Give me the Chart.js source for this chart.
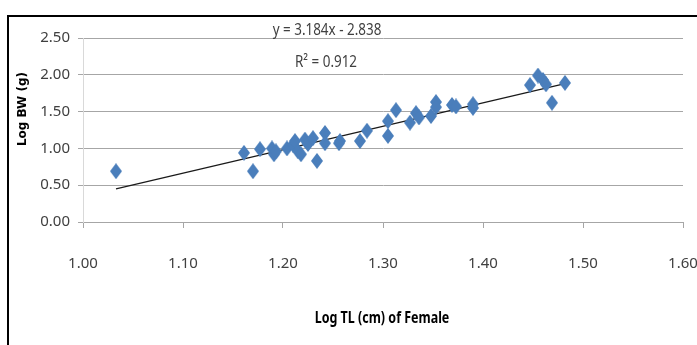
<!DOCTYPE html>
<html>
<head>
<meta charset="utf-8">
<script src="https://cdn.jsdelivr.net/npm/chart.js@4.4.0/dist/chart.umd.min.js"></script>
<style>
  html, body { margin: 0; padding: 0; background: #fff; }
  #wrap { position: relative; width: 697px; height: 345px; overflow: hidden; }
  #frame { position: absolute; left: 7px; top: 15px; width: 720px; height: 360px;
           border-left: 2px solid #000; border-top: 2px solid #000; }
  canvas { position: absolute; left: 0; top: 0; }
</style>
</head>
<body>
<div id="wrap">
  <div id="frame"></div>
  <canvas id="chart" width="697" height="345"></canvas>
</div>
<script>
// Log TL (cm) and Log BW (g) of females
const logTL = [1.033, 1.161, 1.170, 1.177, 1.189, 1.191, 1.193, 1.204, 1.210, 1.212,
               1.215, 1.218, 1.222, 1.225, 1.230, 1.234, 1.242, 1.242, 1.256, 1.257,
               1.277, 1.284, 1.305, 1.305, 1.313, 1.327, 1.333, 1.336, 1.348, 1.353,
               1.353, 1.369, 1.373, 1.390, 1.390, 1.447, 1.455, 1.460, 1.463, 1.469, 1.482];
const logBW = [0.69, 0.94, 0.69, 0.99, 1.00, 0.92, 0.96, 1.00, 1.05, 1.10,
               0.96, 0.92, 1.12, 1.06, 1.14, 0.83, 1.21, 1.07, 1.07, 1.10,
               1.10, 1.24, 1.37, 1.17, 1.52, 1.35, 1.48, 1.42, 1.44, 1.63,
               1.56, 1.59, 1.57, 1.55, 1.60, 1.86, 1.99, 1.93, 1.87, 1.62, 1.89];

// trendline end points (y = 3.184x - 2.838)
const trendX = [1.033, 1.482];
const trendY = [0.451, 1.881];

const xTickLabels = ['1.00', '1.10', '1.20', '1.30', '1.40', '1.50', '1.60'];
const yTickLabels = ['0.00', '0.50', '1.00', '1.50', '2.00', '2.50'];

const eqText = 'y = 3.184x - 2.838';
const r2Text = 'R\u00B2 = 0.912';
const xTitle = 'Log TL (cm) of Female';
const yTitle = 'Log BW (g)';

const sans = "'Noto Sans', 'Open Sans', sans-serif";

function diamond(w, h, color) {
  const c = document.createElement('canvas');
  c.width = w; c.height = h;
  const g = c.getContext('2d');
  g.fillStyle = color;
  g.beginPath();
  g.moveTo(w / 2, 0);
  g.lineTo(w, h / 2);
  g.lineTo(w / 2, h);
  g.lineTo(0, h / 2);
  g.closePath();
  g.fill();
  return c;
}
const marker = diamond(12, 16, '#4a7ebb');

// narrow text, the original uses a Calibri-like face
function narrowText(ctx, text, x, y, font, color, sx) {
  ctx.save();
  ctx.font = font;
  ctx.fillStyle = color;
  ctx.textAlign = 'center';
  ctx.textBaseline = 'middle';
  ctx.translate(x, y);
  ctx.scale(sx, 1);
  ctx.fillText(text, 0, 0);
  ctx.restore();
}

const extraText = {
  id: 'extraText',
  afterDraw(chart) {
    const ctx = chart.ctx;
    narrowText(ctx, eqText, 327, 30, '16px ' + sans, '#404040', 0.84);
    narrowText(ctx, r2Text, 326, 62, '16px ' + sans, '#404040', 0.84);
    narrowText(ctx, xTitle, 382, 318, 'bold 16px ' + sans, '#000', 0.78);
    ctx.save();
    ctx.fillStyle = '#000';
    ctx.font = "bold 12px 'DejaVu Sans', sans-serif";
    ctx.textAlign = 'center';
    ctx.textBaseline = 'middle';
    ctx.translate(23, 109);
    ctx.rotate(-Math.PI / 2);
    ctx.fillText(yTitle, 0, 0);
    ctx.restore();
  }
};

new Chart(document.getElementById('chart'), {
  type: 'scatter',
  data: {
    datasets: [
      {
        label: 'Female',
        data: logTL.map((x, i) => ({ x: x, y: logBW[i] })),
        pointStyle: marker,
        pointRadius: 6,
        pointHoverRadius: 6
      },
      {
        type: 'line',
        label: 'Trend',
        data: trendX.map((x, i) => ({ x: x, y: trendY[i] })),
        borderColor: '#1a1a1a',
        borderWidth: 1.2,
        pointRadius: 0,
        fill: false
      }
    ]
  },
  options: {
    responsive: false,
    animation: false,
    layout: { padding: { left: 0, top: 38, right: 14, bottom: 0 } },
    plugins: { legend: { display: false }, tooltip: { enabled: false } },
    scales: {
      x: {
        type: 'linear',
        min: 1.0, max: 1.6,
        ticks: {
          stepSize: 0.1,
          color: '#404040',
          font: { family: sans, size: 15 },
          padding: 27,
          maxRotation: 0,
          callback: (v, i) => xTickLabels[i]
        },
        grid: { drawOnChartArea: false, drawTicks: true, tickLength: 6, color: '#a6a6a6' },
        border: { color: '#a6a6a6', width: 1 },
        afterFit(scale) {
          scale.height = 123;
          scale.paddingLeft = 0;
          scale.paddingRight = 0;
        }
      },
      y: {
        min: 0, max: 2.5,
        ticks: {
          stepSize: 0.5,
          color: '#404040',
          font: { family: sans, size: 15 },
          padding: 8,
          callback: (v, i) => yTickLabels[i]
        },
        grid: { color: '#a6a6a6', lineWidth: 1, tickLength: 5 },
        border: { color: '#d9d9d9', width: 1 },
        afterFit(scale) { scale.width = 83; }
      }
    }
  },
  plugins: [extraText]
});
</script>
</body>
</html>
